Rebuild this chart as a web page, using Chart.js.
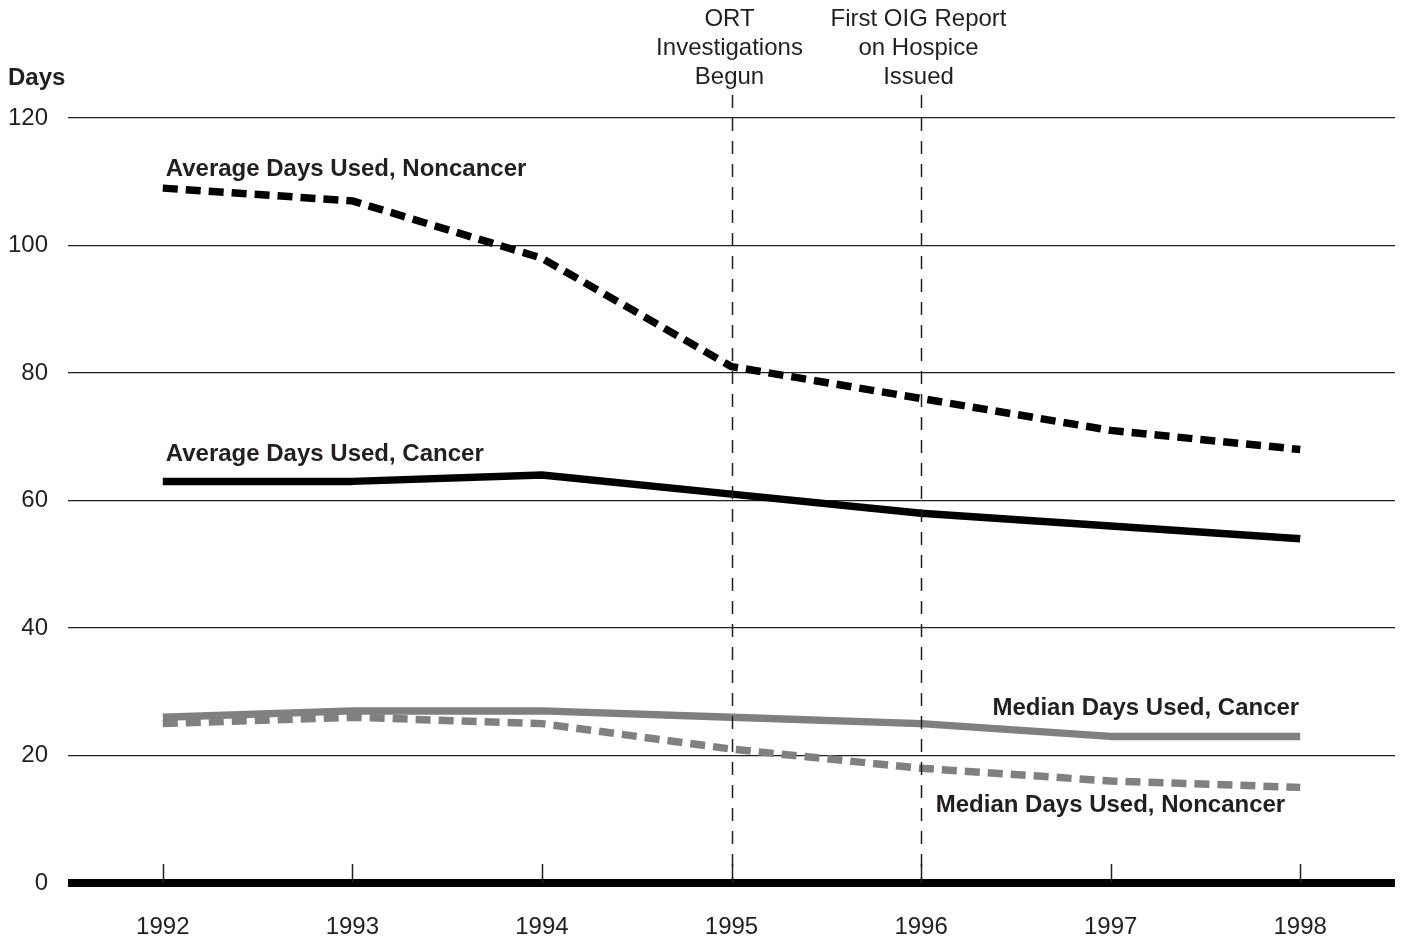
<!DOCTYPE html>
<html>
<head>
<meta charset="utf-8">
<script src="https://cdn.jsdelivr.net/npm/chart.js@4.4.1/dist/chart.umd.min.js"></script>
<style>
  html, body { margin: 0; padding: 0; background: #fff; }
  #wrap { width: 1401px; height: 939px; }
</style>
</head>
<body>
<div id="wrap"><canvas id="daysChart"></canvas></div>
<script>
/* ---------- data ---------- */
const years = ['1992', '1993', '1994', '1995', '1996', '1997', '1998'];
const avgNoncancer = [109, 107, 98, 81, 76, 71, 68];
const avgCancer = [63, 63, 64, 61, 58, 56, 54];
const medCancer = [26, 27, 27, 26, 25, 23, 23];
const medNoncancer = [25, 26, 25, 21, 18, 16, 15];
const yTicks = [0, 20, 40, 60, 80, 100, 120];

// vertical event markers
const events = [
    { year: '1995', lines: ['ORT', 'Investigations', 'Begun'] },
    { year: '1996', lines: ['First OIG Report', 'on Hospice', 'Issued'] }
];

const INK = '#231f20';
const GRAY = '#808080';
const FONT = '"Liberation Sans", Arial, Helvetica, sans-serif';

/* ---------- extra drawing: markers, labels, zero line ---------- */
const decorPlugin = {
    id: 'decor',
    afterDatasetsDraw(chart) {
        const { ctx, chartArea, scales: { x, y } } = chart;
        ctx.save();

        // dashed event lines + captions
        ctx.strokeStyle = INK;
        ctx.lineWidth = 1.5;
        ctx.setLineDash([13, 10]);
        ctx.font = '24px ' + FONT;
        ctx.fillStyle = INK;
        ctx.textAlign = 'center';
        ctx.textBaseline = 'middle';
        events.forEach(ev => {
            const px = Math.round(x.getPixelForValue(years.indexOf(ev.year))) + 0.5;
            ctx.beginPath();
            ctx.moveTo(px, 95);
            ctx.lineTo(px, y.getPixelForValue(0));
            ctx.stroke();
            ev.lines.forEach((t, i) => ctx.fillText(t, px - 3, 19 + i * 29));
        });
        ctx.setLineDash([]);

        // thick zero baseline
        const y0 = y.getPixelForValue(0);
        ctx.fillStyle = '#000';
        ctx.fillRect(chartArea.left, y0 - 4, chartArea.right - chartArea.left, 8);

        // upward tick marks
        ctx.strokeStyle = INK;
        ctx.lineWidth = 1.5;
        years.forEach((yr, i) => {
            const px = Math.round(x.getPixelForValue(i)) + 0.5;
            ctx.beginPath();
            ctx.moveTo(px, y0);
            ctx.lineTo(px, y0 - 19);
            ctx.stroke();
        });

        // series labels
        ctx.fillStyle = INK;
        ctx.font = 'bold 24px ' + FONT;
        ctx.textAlign = 'left';
        const x92 = x.getPixelForValue(0);
        const x98 = x.getPixelForValue(6);
        ctx.fillText('Average Days Used, Noncancer', x92 + 3, y.getPixelForValue(112.0));
        ctx.fillText('Average Days Used, Cancer', x92 + 3, y.getPixelForValue(67.2));
        ctx.textAlign = 'right';
        ctx.fillText('Median Days Used, Cancer', x98 - 1, y.getPixelForValue(27.4));
        ctx.fillText('Median Days Used, Noncancer', x98 - 15, y.getPixelForValue(12.1));

        // axis title
        ctx.textAlign = 'left';
        ctx.fillText('Days', 8, 78);
        ctx.restore();
    }
};

/* ---------- chart ---------- */
const ctx = document.getElementById('daysChart').getContext('2d');
new Chart(ctx, {
    type: 'line',
    data: {
        labels: years,
        datasets: [
            { label: 'Average Days Used, Noncancer', data: avgNoncancer, borderColor: '#000', borderDash: [15, 8] },
            { label: 'Average Days Used, Cancer', data: avgCancer, borderColor: '#000' },
            { label: 'Median Days Used, Cancer', data: medCancer, borderColor: GRAY },
            { label: 'Median Days Used, Noncancer', data: medNoncancer, borderColor: GRAY, borderDash: [15, 8] }
        ]
    },
    options: {
        responsive: true,
        maintainAspectRatio: false,
        animation: false,
        layout: { padding: { top: 118, right: 6, left: 0, bottom: 0 } },
        elements: {
            line: { borderWidth: 7.5, tension: 0, borderCapStyle: 'butt', borderJoinStyle: 'round', fill: false },
            point: { radius: 0, hoverRadius: 0 }
        },
        plugins: { legend: { display: false }, tooltip: { enabled: false } },
        scales: {
            x: {
                type: 'category',
                offset: true,
                grid: { display: false, drawTicks: false },
                border: { display: false },
                ticks: { color: INK, font: { family: FONT, size: 24 }, padding: 30, maxRotation: 0 },
                afterFit: s => { s.height = 56; }
            },
            y: {
                min: 0,
                max: 120,
                afterBuildTicks: s => { s.ticks = yTicks.map(v => ({ value: v })); },
                grid: {
                    color: INK,
                    lineWidth: c => (c.tick && c.tick.value === 0 ? 0 : 1.3),
                    drawTicks: false
                },
                border: { display: false },
                ticks: { color: INK, font: { family: FONT, size: 24 }, padding: 20 },
                afterFit: s => { s.width = 68; }
            }
        }
    },
    plugins: [decorPlugin]
});
</script>
</body>
</html>
